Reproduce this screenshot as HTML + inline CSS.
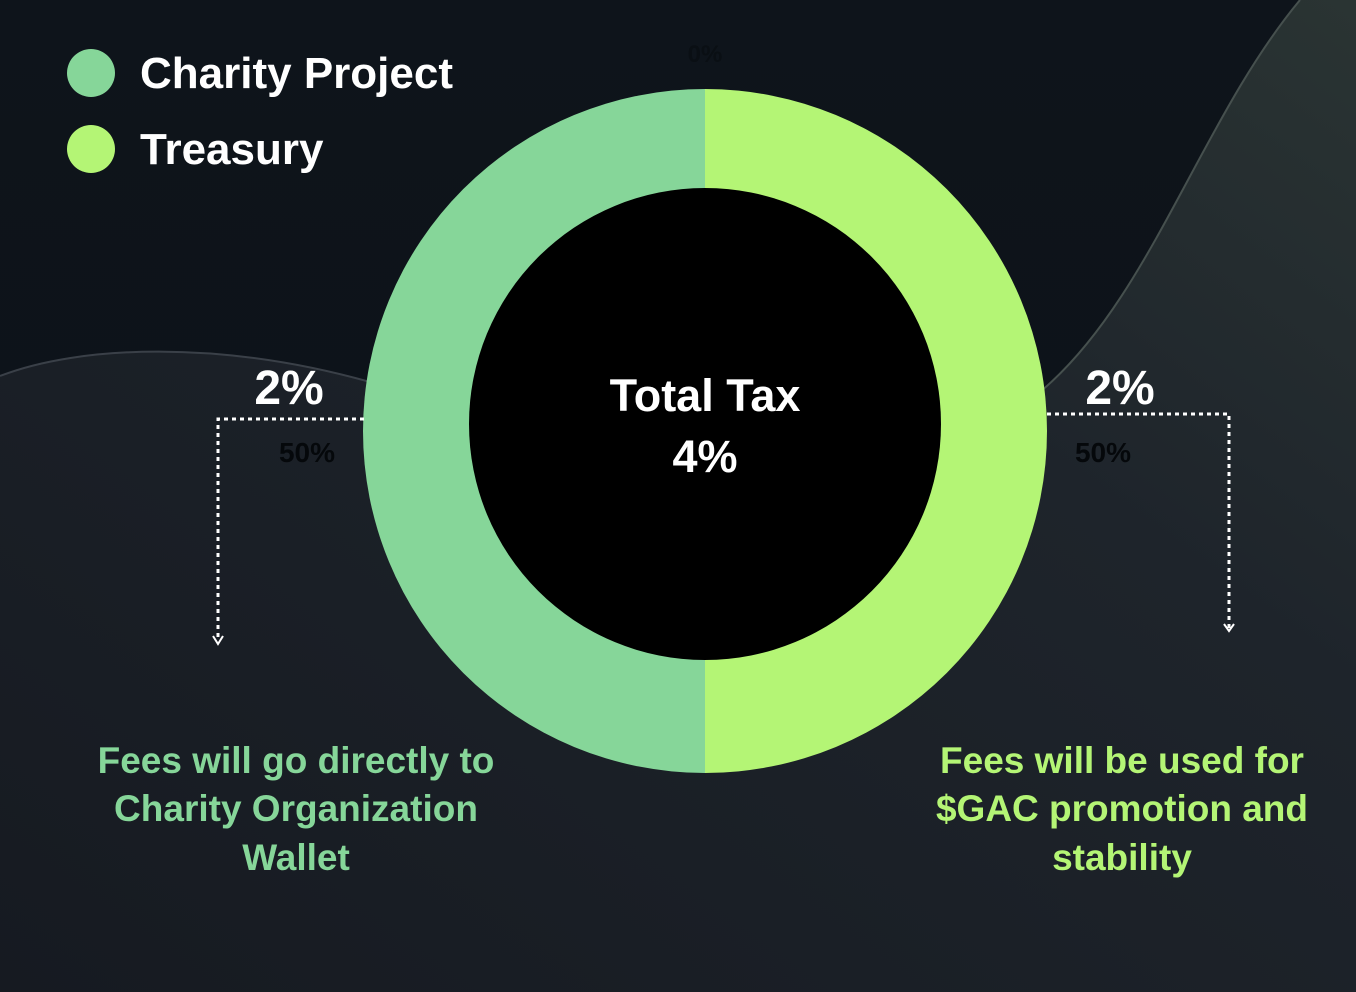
<!DOCTYPE html>
<html><head><meta charset="utf-8"><style>
html,body{margin:0;padding:0;width:1356px;height:992px;overflow:hidden;background:#131920;}
svg{display:block}
text{font-family:"Liberation Sans",sans-serif;font-weight:bold}
</style></head><body>
<svg width="1356" height="992" viewBox="0 0 1356 992">
<defs>
<linearGradient id="bg" x1="0" y1="0" x2="0" y2="1"><stop offset="0" stop-color="#0e141b"/><stop offset="1" stop-color="#0c1117"/></linearGradient>
<linearGradient id="lw" x1="1" y1="0" x2="0" y2="1"><stop offset="0" stop-color="#2a3433"/><stop offset="0.35" stop-color="#1e242b"/><stop offset="1" stop-color="#161a21"/></linearGradient>
</defs>
<rect width="1356" height="992" fill="url(#bg)"/>
<path d="M0,376 C80,345 220,340 370,382 L705,431 L1040,392 C1150,300 1200,120 1300,0 L1356,0 L1356,992 L0,992 Z" fill="url(#lw)"/>
<path d="M0,376 C80,345 220,340 370,382" fill="none" stroke="#3a4048" stroke-width="2"/>
<path d="M1300,0 C1200,120 1150,300 1040,392" fill="none" stroke="#46504e" stroke-width="2"/>
<g id="pie"></g>
<circle cx="705" cy="424" r="236" fill="#000"/>
<text x="705" y="411" text-anchor="middle" fill="#fff" font-size="45">Total Tax</text>
<text x="705" y="472" text-anchor="middle" fill="#fff" font-size="45">4%</text>
<text x="705" y="62" text-anchor="middle" fill="#0a0f14" font-size="24">0%</text>
<circle cx="91" cy="73" r="24" fill="#86d699"/>
<text x="140" y="88" fill="#fff" font-size="44">Charity Project</text>
<circle cx="91" cy="149" r="24" fill="#b4f575"/>
<text x="140" y="164" fill="#fff" font-size="44">Treasury</text>
<text x="289" y="404" text-anchor="middle" fill="#fff" font-size="48">2%</text>
<text x="307" y="462" text-anchor="middle" fill="#05080b" font-size="28">50%</text>
<text x="1120" y="404" text-anchor="middle" fill="#fff" font-size="48">2%</text>
<text x="1103" y="462" text-anchor="middle" fill="#05080b" font-size="28">50%</text>
<path d="M364,419 L218,419 L218,640" fill="none" stroke="#fff" stroke-width="3" stroke-dasharray="4,4"/>
<path d="M213,636 L218,644 L223,636" fill="none" stroke="#fff" stroke-width="2"/>
<path d="M1047,414 L1229,414 L1229,628" fill="none" stroke="#fff" stroke-width="3" stroke-dasharray="4,4"/>
<path d="M1224,624 L1229,631 L1234,624" fill="none" stroke="#fff" stroke-width="2"/>
<g fill="#86d699" font-size="37" text-anchor="middle">
<text x="296" y="773">Fees will go directly to</text>
<text x="296" y="821">Charity  Organization</text>
<text x="296" y="870">Wallet</text>
</g>
<g fill="#b4f575" font-size="37" text-anchor="middle">
<text x="1122" y="773">Fees will be used for</text>
<text x="1122" y="821">$GAC promotion and</text>
<text x="1122" y="870">stability</text>
</g>
</svg>
<script>
const labels = ["Treasury","Charity Project"];
const values = [2,2];
const colors = ["#b4f575","#86d699"];
const cx=705, cy=431, r=342;
const g=document.getElementById('pie');
const total=values.reduce((a,b)=>a+b,0);
let a0=-Math.PI/2;
values.forEach((v,i)=>{
  const a1=a0+v/total*2*Math.PI;
  const large=(a1-a0)>Math.PI?1:0;
  const x0=cx+r*Math.cos(a0), y0=cy+r*Math.sin(a0), x1=cx+r*Math.cos(a1), y1=cy+r*Math.sin(a1);
  const p=document.createElementNS('http://www.w3.org/2000/svg','path');
  p.setAttribute('d',`M${cx},${cy} L${x0},${y0} A${r},${r} 0 ${large} 1 ${x1},${y1} Z`);
  p.setAttribute('fill',colors[i]);
  
  
  g.appendChild(p);
  a0=a1;
});
</script>
</body></html>
